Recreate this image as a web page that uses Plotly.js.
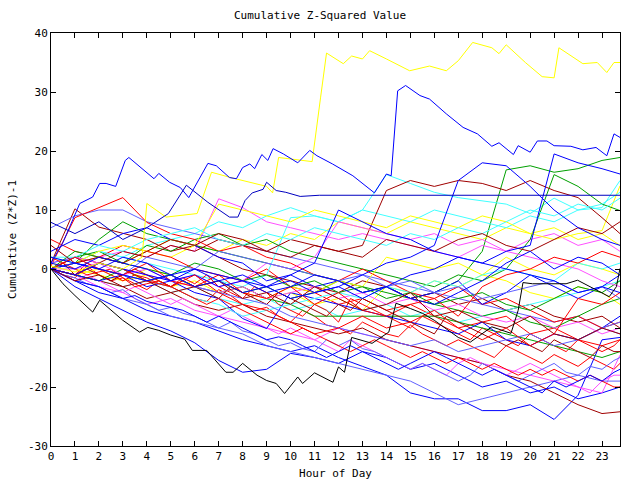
<!DOCTYPE html>
<html>
<head>
<meta charset="utf-8">
<script src="https://cdn.plot.ly/plotly-3.0.1.min.js"></script>
<style>html,body{margin:0;padding:0;background:#fff}#chart{width:640px;height:480px}</style>
</head>
<body>
<div id="chart"></div>
<script>
// ---- data (hourly / half-hourly grids + a few detailed series) ----
const hours = [0,1,2,3,4,5,6,7,8,9,10,11,12,13,14,15,16,17,18,19,20,21,22,23,23.75];
const halfHours = [0,0.5,1,1.5,2,2.5,3,3.5,4,4.5,5,5.5,6,6.5,7,7.5,8,8.5,9,9.5,10,10.5,11,11.5,12,12.5,13,13.5,14,14.5,15,15.5,16,16.5,17,17.5,18,18.5,19,19.5,20,20.5,21,21.5,22,22.5,23,23.5,23.75];
const hourTicks = [0,1,2,3,4,5,6,7,8,9,10,11,12,13,14,15,16,17,18,19,20,21,22,23];
const valueTicks = [-30,-20,-10,0,10,20,30,40];

// detailed series
const yellowTopX = [0,1,2,3,3.8,4,4.8,6.1,6.7,7.5,9,9.25,9.5,10.9,11.25,11.5,12.2,12.55,13,13.3,14,14.97,15.8,16.5,17,17.6,18.4,18.7,19,19.8,20.5,21,21.2,22.2,22.8,23.2,23.5,23.75];
const yellowTopY = [0.5,-0.5,1,0,2,11.1,8.8,9.4,16.4,15.5,14,12.9,18.9,18.2,29,36.6,34.8,36.1,35.6,37,35.6,33.6,34.4,33.6,35.3,38.4,37.5,36.5,38,35,32.6,32.4,37.5,34.8,35,33.3,35,35];

const blueSpikeX = [0,0.5,1.2,1.74,2.03,2.3,2.7,3.1,3.25,4.3,4.5,4.95,5.4,5.75,6.55,6.9,7.45,7.74,8.0,8.3,8.5,8.8,9.05,9.27,9.7,10.3,10.8,11.1,11.75,12.6,13.5,14,14.2,14.47,14.8,15.4,15.8,16.5,17.2,17.8,18.4,18.7,19.3,19.5,20,20.3,20.7,21,21.7,22.2,22.75,23.2,23.5,23.75];
const blueSpikeY = [1,4.5,11.1,12.2,14.5,14.5,14,18.4,18.9,15.3,16.2,14.7,13.8,12.1,17.9,17.5,15.5,15.3,17.2,17.8,17,19.4,18.4,20.4,19.5,18,20.1,19.2,17.8,15.8,12.9,16.1,15.8,30.2,31.1,29.4,28.8,26.3,24,22.9,20.8,21.4,19.4,20.9,19.8,21.7,21.7,20.9,20.8,20.2,20.6,19.2,22.9,22.3];

const blueFlatX = [0,1,2,3,4,4.9,5.65,6.2,6.55,7.45,7.8,8.1,8.4,8.85,9,9.4,9.8,10.4,11.2,23.75];
const blueFlatY = [7.9,6,8,5,7,9.4,14.2,12.4,11.3,8.8,8.8,11.6,12.9,13.5,14.7,13.3,13,12.3,12.5,12.5];

const blackLowX = [0,0.5,1,1.74,2.03,3,3.7,4.04,4.5,5,5.58,5.9,6.5,7.3,7.6,8,8.6,9,9.4,9.75,10.3,10.5,11,11.77,12,12.25,12.55,13,13.4,14.1,14.4,15,15.5,16,17,17.5,18,18.4,19.2,19.5,19.7,20.1,20.7,21.5,21.98,22.8,23.3,23.6,23.75];
const blackLowY = [0,-2.5,-4.5,-7.3,-5.3,-8.7,-10.7,-9.9,-10.4,-11.2,-11.9,-13.8,-13.8,-17.5,-17.5,-16,-18,-18.9,-19.4,-21.1,-18.3,-19.4,-17.6,-19.2,-16.6,-17.5,-11.6,-12.1,-12.6,-10.7,-5.8,-6.7,-7.5,-8.7,-11.6,-12.4,-10.9,-9.8,-10.9,-7,-2.3,-2.5,-2.5,-2.5,-1.9,-3.6,-4.7,-3,0.1];

// half-hourly series
const red1 = [0,-1,-1.5,0.5,-1,-2,-1.5,-2.5,-3.5,-2, -3,-4,-5,-5.5,-3.5,-4.5,-6,-7,-6.5,-8, -9,-7,-8,-9.5,-10,-11,-9,-10,-11,-11.5, -9.5,-11,-12,-13,-12,-13,-14,-15,-13,-14, -15,-16,-14.5,-15.5,-16.5,-15,-16,-17,-16];
const red4 = [0,-0.5,-1,1,0,-1,-2,-1,-1.5,-2.5, -3,-1.5,-2.5,-1,-3,-4,-5,-3,-4,-6, -7,-8,-6,-7,-9,-5,-6,-7,-8,-9, -10,-8,-9,-10,-11,-12,-10,-11,-12,-13, -11,-12,-13,-14,-12,-13,-14,-13,-12];
const red5 = [2,1,0,-1,-0.5,0,-1.5,-3,-2.5,-2, -3,-4,-5,-6,-5,-6,-7,-8,-9,-10, -11,-10,-11,-12,-13,-14,-13,-12,-13,-14, -15,-14,-15,-16,-15,-16,-17,-16,-17,-18, -17,-18,-17,-18,-19,-18,-19,-20,-20];
const darkRed4 = [0,1,-1,0,-1,-2,-1,0,-1,-2, -3,-2,-3,-4,-5,-3,-4,-5,-6,-4, -5,-6,-7,-8,-6,-7,-5,-6,-7,-8, -9,-10,-11,-8,-9,-10,-11,-12,-13,-12, -13,-14,-12,-13,-14,-15,-13,-14,-14];
const slate3 = [0,-1,-1.5,-2.5,-3,-4,-3.5,-5,-6,-7, -6.5,-7.5,-8,-9,-10,-9,-10.5,-11,-12,-13, -12.5,-13.5,-14,-12,-13,-12,-13.5,-14,-15,-16, -17,-16,-17,-18,-19,-18,-16,-17,-18,-19, -18,-17,-16,-17.5,-18,-16.5,-17,-15.5,-15];
const magenta3 = [0,-1,-2,-1,-2,-3,-4,-3,-4,-5, -6,-5,-6,-7,-8,-7,-8,-9,-10,-11, -10,-11,-12,-13,-14,-12,-13,-14,-15,-16, -17,-16,-17,-18,-16,-15,-16,-17,-18,-17, -16,-17,-18,-19,-20,-21,-19,-18,-18];
const blue5 = [0,-1,-2,-2.5,-3,-4,-5,-4.5,-5.5,-6, -6.5,-7,-8,-9,-8,-9,-10,-11,-12,-11.5, -12,-13,-14,-15,-14,-13,-14,-15,-16,-17, -16,-15,-14,-15,-16,-17,-18,-17,-18,-19, -20,-21,-19,-20,-19,-18,-19,-17.5,-17];

// hourly series
const red2 = [5,3,2,4,3,2,0,-1,-2,0,-3,-4,-6,-5,-7,-6,-8,-10,-9,-8,-11,-10,-12,-13,-12];
const red3 = [0.5,8.7,10.4,12.1,7.9,6,5,3,4,2,1,-1,-2,0,-2,-4,-5,-3,-6,-5,-7,-9,-8,-10,-9];
const red6 = [0,2,0,-1,1,-2,-3,-1,-4,-5,-3,-6,-4,-7,-8,-6,-5,-8,-3,-1,0,2,1,3,2];
const red7 = [0,-1,1,0,-2,-3,-1,-4,-6,-7,-9,-11,-10,-8,-10,-9,-7,-10,-12,-10,-13,-11,-5,-6,-4];

const darkRed1 = [1,10.2,7.1,6,5,3,4,2,0,-1,-2,-3,-4,-2,-3,-5,-4,-6,-5,-7,-6,-8,-9,-8,-10];
const darkRed2 = [0,-1,-2,-3,-5,-4,-6,-7,-6,-8,-9,-10,-11,-10,-12,-13,-14,-15,-16,-18,-19,-21,-23,-24.5,-24.2];
const darkRed3 = [0,2,1,3,2,4,3,5,4,3,5,4,3,4,13.3,15,14,15,14.5,13.3,15,13.3,12.1,8.7,6];
const darkRed5 = [4,1,2,1,3,5,4,6,5,3,2,4,3,2,5,4,3,5,6,4,3,5,7,6,8];
const darkRed6 = [0,-2,-1,-3,-2,-4,-3,-2,-5,-4,-6,-3,-5,-7,-6,-4,-8,-7,-9,-10,-8,-11,-12,-10,-11];

const green1 = [0,-1,1,0,-2,-1,-3,-2,-4,-3,-5,-4,-2,-4,-3,-5,-4,-2,3,16.8,17.5,16.4,17,18.4,18.9];
const green2 = [0,2,3,1,4,3,5,6,4,5,3,2,1,0,-1,-2,-3,-1,-2,0,5,16,14,11,9.9];
const green3 = [0,1,5,8,6,5,4,3,2,1,0,-1,-2,-3,-4,-5,-6,-7,-8,-7,-9,-10,-8,-6,-5];
const green4 = [0,-1,-2,0,-2,-1,-3,-4,-3,-5,-6,-8,-8,-8,-8,-8,-8,-9,-10,-11,-12,-13,-14,-15,-14];
const green5 = [0,3,2,1,0,-1,1,0,-2,-1,-3,-2,-4,-3,-5,-4,-6,-5,-4,-6,-7,-5,-3,-4,-2];

const blue1 = [0,-2,-4,-5,-7,-8,-9,-10.5,-12,-13,-14,-13,-15,-16.5,-18,-21,-22,-22,-24,-24,-23,-25.5,-21.4,-12,-11.6];
const blue2 = [0,-3,-5,-7,-9,-10.5,-12.5,-15.5,-17.5,-17,-14.3,-15,-16,-14,-15,-17,-16,-18,-20,-19,-21,-20,-22,-21,-20];
const blue3 = [3,5,4,6,7,5,4,2,1,-2,-1,-3,-2,-4,-3,-5,-4,-2,-6,-4,-1,-3,-5,-3,-1];
const blue4 = [0,-1,-2,-1,-3,-2,-4,-5,-8.4,-10.1,-4,-5,-6,-7,-8,-9,-10,-11,-9,-12,-13,-11,-12,-10,-8];
const blue6 = [1,0,2,1,0,-2,-1,-3,-2,-4,-3,-1,-2,-4,-3,-5,-6,-4,-2,1,3,0,2,1,-1];
const blue7 = [0,-1,1,0,-1,-2,0,-1,-2,-3,-1,1,10,8,6,5,3,2,1,0,-1,-2,-4,-3,-4];
const blue8 = [0,1,0,-1,-2,-1,-3,-2,-4,-3,-5,-4,-3,-1,1,2,4,15,18,17.5,14,10,7,5,4];
const blue9 = [2,1,0,2,1,-1,0,-2,-1,-3,-2,-4,-3,-5,-3,-1,0,2,1,3,4,19.5,18,17,16.1];

const slate1 = [7,9,10,10,8,7,6,5,4,3,2,1,0,-1,-2,-3,-4,-5,-6,-7,-8,-9,-8,-10,-11];
const slate2 = [0,-2,-3,-5,-6,-8,-9,-10,-11,-13,-14,-15,-16,-17,-18,-19,-21,-23,-22,-21,-20,-19,-18,-19,-19];
const slate4 = [1,2,0,-1,-2,-1,-3,-4,-5,-6,-8,-9,-10,-11,-12,-13,-12,-14,-13,-12,-11,-13,-12,-10,-9];
const slate5 = [0,1,0,-1,2,1,0,3,2,1,0,-1,-2,-1,-3,-2,-4,-3,-5,-4,-3,-2,-4,-3,-5];

const magenta1 = [0,1,2,3,2,4,3,11.9,10.4,8,7,6,5,6,5,4,3,2,4,3,5,6,4,5,3];
const magenta2 = [0,-1,-3,-4,-6,-5,-7,-8,-9,-10,-11,-12,-10,-11,-12,-13,-14,-15,-16,-17,-18,-19,-20,-21,-14.6];
const magenta4 = [1,2,1,0,-1,-2,-3,-4,-3,-5,-4,-3,-5,-4,-6,-5,-7,-6,-8,-9,-8,-10,-9,-11,-10];
const magenta5 = [0,0,1,-1,0,-2,-1,-3,-2,1,0,2,8,7,6,5,6,4,5,3,2,1,0,-2,-3];

const cyan1 = [0,1,3,2,4,5,6,8,7,9,10.4,9,8,10,16,14.5,13,12.1,11.5,11,9.4,12,10,10.4,15];
const cyan2 = [0,-1,-2,-3,-2,-4,-3,-5,-6,-5,-7,-6,-8,-7,-6,-8,-7,-9,-8,-7,-6,-5,-4,-3,-2];
const cyan3 = [2,1,3,2,1,0,-1,-2,-3,-1,8.7,9,8,10,9,8,10,9,8,7,9,8,10,11,13];
const cyan4 = [0,1,0,-1,-2,-3,-5,-6,-8,-7,-6,-5,-4,-5,-3,-4,-2,-3,-1,0,-1,-2,1,0,1];
const cyan5 = [2,2,4,3,5,6,7,5,4,6,5,7,6,5,4,6,5,7,6,8,10,9,11,10,12];

const yellow1 = [0,1,2,1,3,2,4,3,5,4,6,5,8,7,6,8,7,6,5,7,6,5,6,6.5,14.1];
const yellow2 = [0,-1,0,-2,-1,-3,-2,-4,-3,-5,-4,-6,-5,-7,-3,-4,-2,-3,-1,-2,-4,-5,-3,-4,-6];
const yellow3 = [1,0,-1,-2,0,-1,-3,-2,-4,-5,-3,-4,-2,-3,2,1,0,1,-1,2,0,-1,1,0,-1];
const yellow4 = [0,1,3,4,3,5,4,11,10,9,8,10,9,8,7,9,8,7,9,8,6,7,5,6,4];

// ---- styles ----
const C = {
  red:'#ff0000', darkred:'#a00000', green:'#00a000', blue:'#0000ff', darkblue:'#0000c0',
  slate:'#6060ff', magenta:'#ff50ff', cyan:'#40ffff', yellow:'#ffff00', black:'#000000'
};

const series = [
  [halfHours, red1, C.red], [hours, green1, C.green], [hours, blue1, C.blue], [hours, magenta1, C.magenta],
  [hours, cyan1, C.cyan], [hours, darkRed1, C.darkred], [hours, yellow1, C.yellow], [hours, slate1, C.slate],
  [hours, red2, C.red], [hours, green2, C.green], [hours, blue2, C.blue], [hours, magenta2, C.magenta],
  [hours, cyan2, C.cyan], [hours, darkRed2, C.darkred], [hours, yellow2, C.yellow], [hours, slate2, C.slate],
  [hours, red3, C.red], [hours, green3, C.green], [hours, blue3, C.blue], [halfHours, magenta3, C.magenta],
  [hours, cyan3, C.cyan], [hours, darkRed3, C.darkred], [hours, yellow3, C.yellow], [halfHours, slate3, C.slate],
  [halfHours, red4, C.red], [hours, green4, C.green], [hours, blue4, C.blue], [hours, magenta4, C.magenta],
  [hours, cyan4, C.cyan], [halfHours, darkRed4, C.darkred], [hours, yellow4, C.yellow], [hours, slate4, C.slate],
  [halfHours, red5, C.red], [hours, green5, C.green], [halfHours, blue5, C.blue], [hours, magenta5, C.magenta],
  [hours, cyan5, C.cyan], [hours, darkRed5, C.darkred], [hours, slate5, C.slate],
  [hours, red6, C.red], [hours, blue6, C.blue], [hours, darkRed6, C.darkred], [hours, red7, C.red],
  [hours, blue7, C.blue], [hours, blue8, C.blue], [hours, blue9, C.blue],
  [yellowTopX, yellowTopY, C.yellow], [blueSpikeX, blueSpikeY, C.blue],
  [blueFlatX, blueFlatY, C.darkblue], [blackLowX, blackLowY, C.black]
];

const traces = series.map(([x, y, col]) => ({
  x: x, y: y, type: 'scatter', mode: 'lines',
  line: {color: col, width: 1}, hoverinfo: 'skip', showlegend: false
}));

const font = {family: 'DejaVu Sans Mono, monospace', size: 11, color: '#000'};

const layout = {
  width: 640, height: 480,
  margin: {l: 51, r: 20, t: 33, b: 34},
  paper_bgcolor: '#fff', plot_bgcolor: '#fff',
  font: font,
  showlegend: false,
  title: {text: 'Cumulative Z-Squared Value', font: font, x: 0.5, xanchor: 'center', y: 0.969, yanchor: 'middle'},
  xaxis: {
    range: [0, 23.75], tickvals: hourTicks, ticktext: hourTicks.map(String),
    ticks: 'inside', ticklen: 5, tickcolor: '#000', tickwidth: 1,
    showline: true, linecolor: '#000', linewidth: 1, mirror: 'allticks',
    showgrid: false, zeroline: false, tickfont: font,
    title: {text: 'Hour of Day', font: font, standoff: 7}
  },
  yaxis: {
    range: [-30, 40], tickvals: valueTicks, ticktext: valueTicks.map(String),
    ticks: 'inside', ticklen: 5, tickcolor: '#000', tickwidth: 1,
    showline: true, linecolor: '#000', linewidth: 1, mirror: 'allticks',
    showgrid: false, zeroline: false, tickfont: font,
    title: {text: 'Cumulative (Z*Z)-1', font: font, standoff: 9}
  }
};

Plotly.newPlot('chart', traces, layout, {staticPlot: true, displayModeBar: false});
</script>
</body>
</html>
